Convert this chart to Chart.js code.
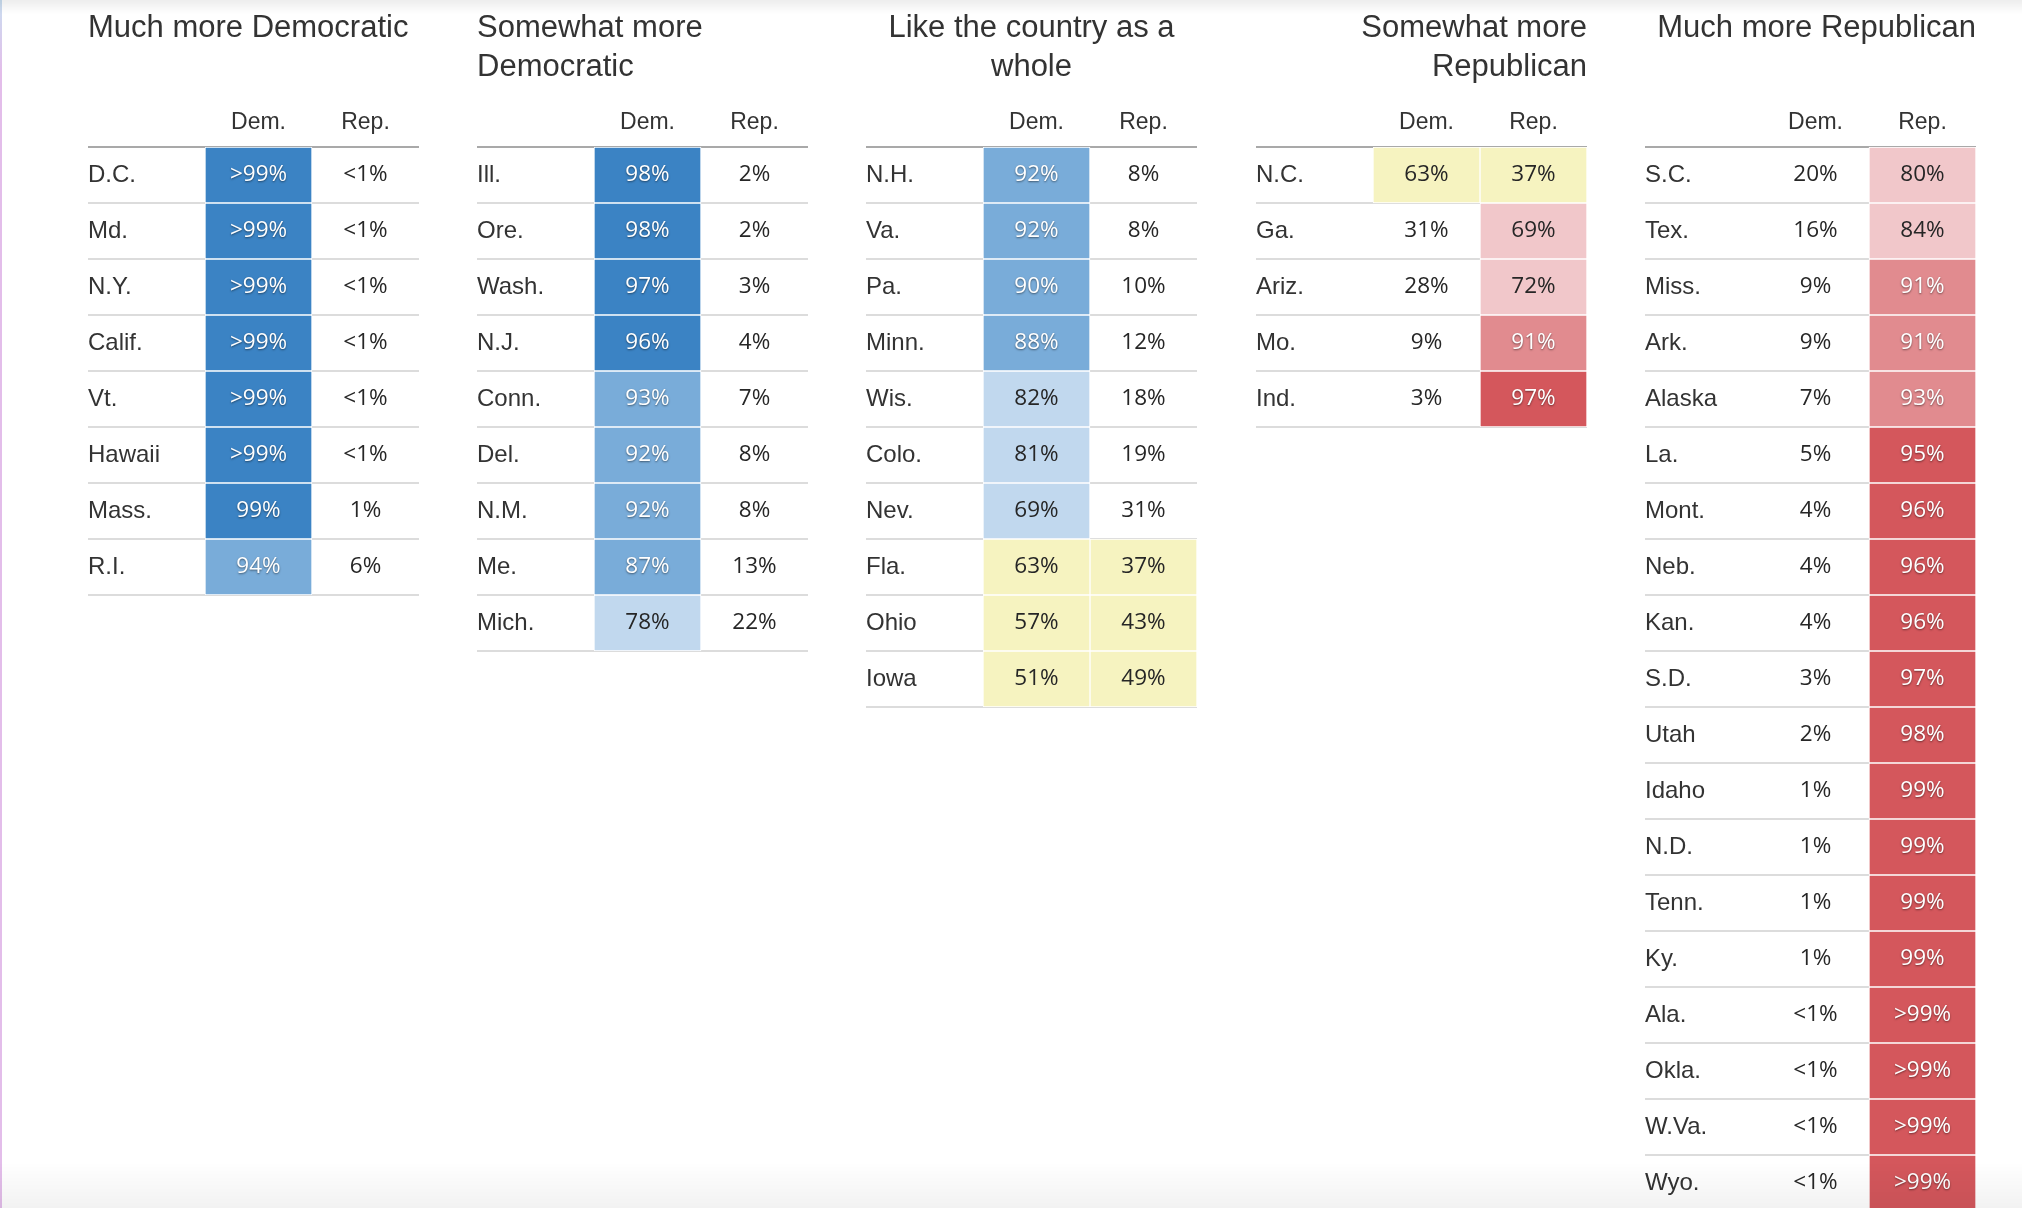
<!DOCTYPE html>
<html>
<head>
<meta charset="utf-8">
<title>State forecast tables</title>
<script src="https://cdn.jsdelivr.net/npm/chart.js@4.4.1/dist/chart.umd.min.js"></script>
<style>
  html, body { margin: 0; padding: 0; background: #fff; overflow: hidden; }
  #wrap { position: relative; width: 2022px; height: 1208px; overflow: hidden; }
  .col { position: absolute; top: 0; }
  .edge { position: absolute; left: 0; top: 0; width: 2px; height: 1208px;
          background: linear-gradient(#c9def0 0, #e3bdea 6%, #e3bdea 100%); }
  .fade-top { position: absolute; left: 0; right: 0; top: 0; height: 14px; pointer-events: none;
              background: linear-gradient(rgba(0,0,0,0.07), rgba(0,0,0,0)); }
  .fade-bottom { position: absolute; left: 0; right: 0; bottom: 0; height: 46px; pointer-events: none;
                 background: linear-gradient(rgba(0,0,0,0), rgba(0,0,0,0.05)); }
</style>
</head>
<body>
<div id="wrap">
  <div class="edge"></div>
  <div class="fade-top"></div>
  <div class="fade-bottom"></div>
</div>
<script>
// column headers of every table
const columnHeaders = ['Dem.', 'Rep.'];

// Much more Democratic
const titleMuchDem = ['Much more Democratic', ''];
const statesMuchDem = ['D.C.', 'Md.', 'N.Y.', 'Calif.', 'Vt.', 'Hawaii', 'Mass.', 'R.I.'];
const demMuchDem = [99.5, 99.5, 99.5, 99.5, 99.5, 99.5, 99, 94];
const repMuchDem = [0.5, 0.5, 0.5, 0.5, 0.5, 0.5, 1, 6];

// Somewhat more Democratic
const titleSomeDem = ['Somewhat more', 'Democratic'];
const statesSomeDem = ['Ill.', 'Ore.', 'Wash.', 'N.J.', 'Conn.', 'Del.', 'N.M.', 'Me.', 'Mich.'];
const demSomeDem = [98, 98, 97, 96, 93, 92, 92, 87, 78];
const repSomeDem = [2, 2, 3, 4, 7, 8, 8, 13, 22];

// Like the country as a whole
const titleLikeUS = ['Like the country as a', 'whole'];
const statesLikeUS = ['N.H.', 'Va.', 'Pa.', 'Minn.', 'Wis.', 'Colo.', 'Nev.', 'Fla.', 'Ohio', 'Iowa'];
const demLikeUS = [92, 92, 90, 88, 82, 81, 69, 63, 57, 51];
const repLikeUS = [8, 8, 10, 12, 18, 19, 31, 37, 43, 49];

// Somewhat more Republican
const titleSomeRep = ['Somewhat more', 'Republican'];
const statesSomeRep = ['N.C.', 'Ga.', 'Ariz.', 'Mo.', 'Ind.'];
const demSomeRep = [63, 31, 28, 9, 3];
const repSomeRep = [37, 69, 72, 91, 97];

// Much more Republican
const titleMuchRep = ['Much more Republican', ''];
const statesMuchRep = ['S.C.', 'Tex.', 'Miss.', 'Ark.', 'Alaska', 'La.', 'Mont.', 'Neb.', 'Kan.', 'S.D.',
  'Utah', 'Idaho', 'N.D.', 'Tenn.', 'Ky.', 'Ala.', 'Okla.', 'W.Va.', 'Wyo.'];
const demMuchRep = [20, 16, 9, 9, 7, 5, 4, 4, 4, 3, 2, 1, 1, 1, 1, 0.5, 0.5, 0.5, 0.5];
const repMuchRep = [80, 84, 91, 91, 93, 95, 96, 96, 96, 97, 98, 99, 99, 99, 99, 99.5, 99.5, 99.5, 99.5];

const groups = [
  { title: titleMuchDem, states: statesMuchDem, dem: demMuchDem, rep: repMuchDem, align: 'start' },
  { title: titleSomeDem, states: statesSomeDem, dem: demSomeDem, rep: repSomeDem, align: 'start' },
  { title: titleLikeUS, states: statesLikeUS, dem: demLikeUS, rep: repLikeUS, align: 'center' },
  { title: titleSomeRep, states: statesSomeRep, dem: demSomeRep, rep: repSomeRep, align: 'end' },
  { title: titleMuchRep, states: statesMuchRep, dem: demMuchRep, rep: repMuchRep, align: 'end' },
];

// layout
const COL_LEFT = 88;
const COL_STEP = 389.2;
const COL_WIDTH = 331;
const LABEL_WIDTH = 117;
const HEAD_BOTTOM = 147;
const ROW_HEIGHT = 56;
const TITLE_SIZE = 31;
const TITLE_LINE = 1.25;
const TITLE_PAD_TOP = 9.5;

const TEXT = '#333333';
const SANS = '"Liberation Sans", Arial, Helvetica, sans-serif';
const palette = {
  dem: { dark: '#3b83c4', mid: '#79acd9', light: '#c1d8ee' },
  rep: { dark: '#d4575c', mid: '#e18b8f', light: '#f1c7ca' },
  toss: '#f6f3c0',
};

function tier(value, other) {
  if (Math.max(value, other) < 65) return 'toss';
  if (value >= 95) return 'dark';
  if (value >= 85) return 'mid';
  if (value >= 65) return 'light';
  return null;
}

function cellColor(party, value, other) {
  const t = tier(value, other);
  if (!t) return 'rgba(0,0,0,0)';
  if (t === 'toss') return palette.toss;
  return palette[party][t];
}

function formatPct(v) {
  if (v > 99) return '>99%';
  if (v < 1) return '<1%';
  return v + '%';
}

// writes the percentage inside every cell
const cellLabels = {
  id: 'cellLabels',
  afterDatasetsDraw(chart) {
    const ctx = chart.ctx;
    ctx.save();
    ctx.font = '22.5px "Open Sans", "Liberation Sans", sans-serif';
    ctx.textAlign = 'center';
    ctx.textBaseline = 'middle';
    chart.data.datasets.forEach((ds, di) => {
      const meta = chart.getDatasetMeta(di);
      meta.data.forEach((bar, i) => {
        const { x, y, base } = bar.getProps(['x', 'y', 'base'], true);
        const v = ds.values[i];
        const t = tier(v, ds.others[i]);
        const strong = t === 'dark' || t === 'mid';
        if (strong) {
          ctx.fillStyle = '#ffffff';
          ctx.shadowColor = 'rgba(0,0,0,0.5)';
          ctx.shadowBlur = 2;
          ctx.shadowOffsetY = 1;
        } else {
          ctx.fillStyle = '#262626';
          ctx.shadowColor = 'rgba(0,0,0,0)';
          ctx.shadowBlur = 0;
          ctx.shadowOffsetY = 0;
        }
        ctx.fillText(formatPct(v), (x + base) / 2, y);
      });
    });
    ctx.restore();
  },
};

const wrap = document.getElementById('wrap');
const titleHeight = TITLE_PAD_TOP + 2 * TITLE_SIZE * TITLE_LINE;

groups.forEach((g, gi) => {
  const height = HEAD_BOTTOM + g.states.length * ROW_HEIGHT + 2;
  const div = document.createElement('div');
  div.className = 'col';
  div.style.left = Math.round(COL_LEFT + gi * COL_STEP) + 'px';
  div.style.width = COL_WIDTH + 'px';
  div.style.height = height + 'px';
  const canvas = document.createElement('canvas');
  canvas.width = COL_WIDTH;
  canvas.height = height;
  canvas.style.width = COL_WIDTH + 'px';
  canvas.style.height = height + 'px';
  div.appendChild(canvas);
  wrap.insertBefore(div, wrap.querySelector('.fade-top'));

  const series = [g.dem, g.rep];
  const parties = ['dem', 'rep'];

  new Chart(canvas, {
    type: 'bar',
    data: {
      labels: g.states,
      datasets: columnHeaders.map((h, ci) => ({
        label: h,
        data: g.states.map(() => [ci, ci + 1]),
        values: series[ci],
        others: series[1 - ci],
        backgroundColor: (c) => cellColor(parties[ci], series[ci][c.dataIndex], series[1 - ci][c.dataIndex]),
        borderColor: (c) => tier(series[ci][c.dataIndex], series[1 - ci][c.dataIndex]) ? '#ffffff' : 'rgba(0,0,0,0)',
        borderWidth: 1,
        borderSkipped: false,
        grouped: false,
        barPercentage: 1,
        categoryPercentage: 1,
      })),
    },
    options: {
      indexAxis: 'y',
      responsive: false,
      animation: false,
      events: [],
      layout: { padding: { left: 0, right: 0, top: 0, bottom: 2 } },
      scales: {
        x: {
          type: 'linear',
          position: 'top',
          min: 0,
          max: columnHeaders.length,
          z: 1,
          grid: { display: false, drawTicks: false },
          border: { display: true, color: '#a9a9a9', width: 2 },
          afterBuildTicks: (scale) => {
            scale.ticks = columnHeaders.map((h, i) => ({ value: i + 0.5 }));
          },
          afterFit: (scale) => { scale.height = HEAD_BOTTOM - titleHeight; },
          ticks: {
            padding: 11,
            color: TEXT,
            font: { family: SANS, size: 23 },
            callback: (value, index) => columnHeaders[index],
          },
        },
        y: {
          type: 'category',
          position: 'left',
          offset: true,
          border: { display: false },
          grid: {
            offset: true,
            drawTicks: true,
            tickLength: LABEL_WIDTH,
            color: (c) => c.index === 0 ? '#a9a9a9' : '#dcdcdc',
            lineWidth: 2,
          },
          afterFit: (scale) => {
            scale.width = LABEL_WIDTH;
            scale.paddingTop = 0;
            scale.paddingBottom = 0;
          },
          ticks: {
            autoSkip: false,
            crossAlign: 'far',
            color: TEXT,
            font: { family: SANS, size: 24 },
          },
        },
      },
      plugins: {
        legend: { display: false },
        tooltip: { enabled: false },
        title: {
          display: true,
          text: g.title,
          align: g.align,
          color: TEXT,
          font: { family: SANS, size: TITLE_SIZE, weight: 'normal', lineHeight: TITLE_LINE },
          padding: { top: TITLE_PAD_TOP, bottom: 0 },
        },
      },
    },
    plugins: [cellLabels],
  });
});
</script>
</body>
</html>
